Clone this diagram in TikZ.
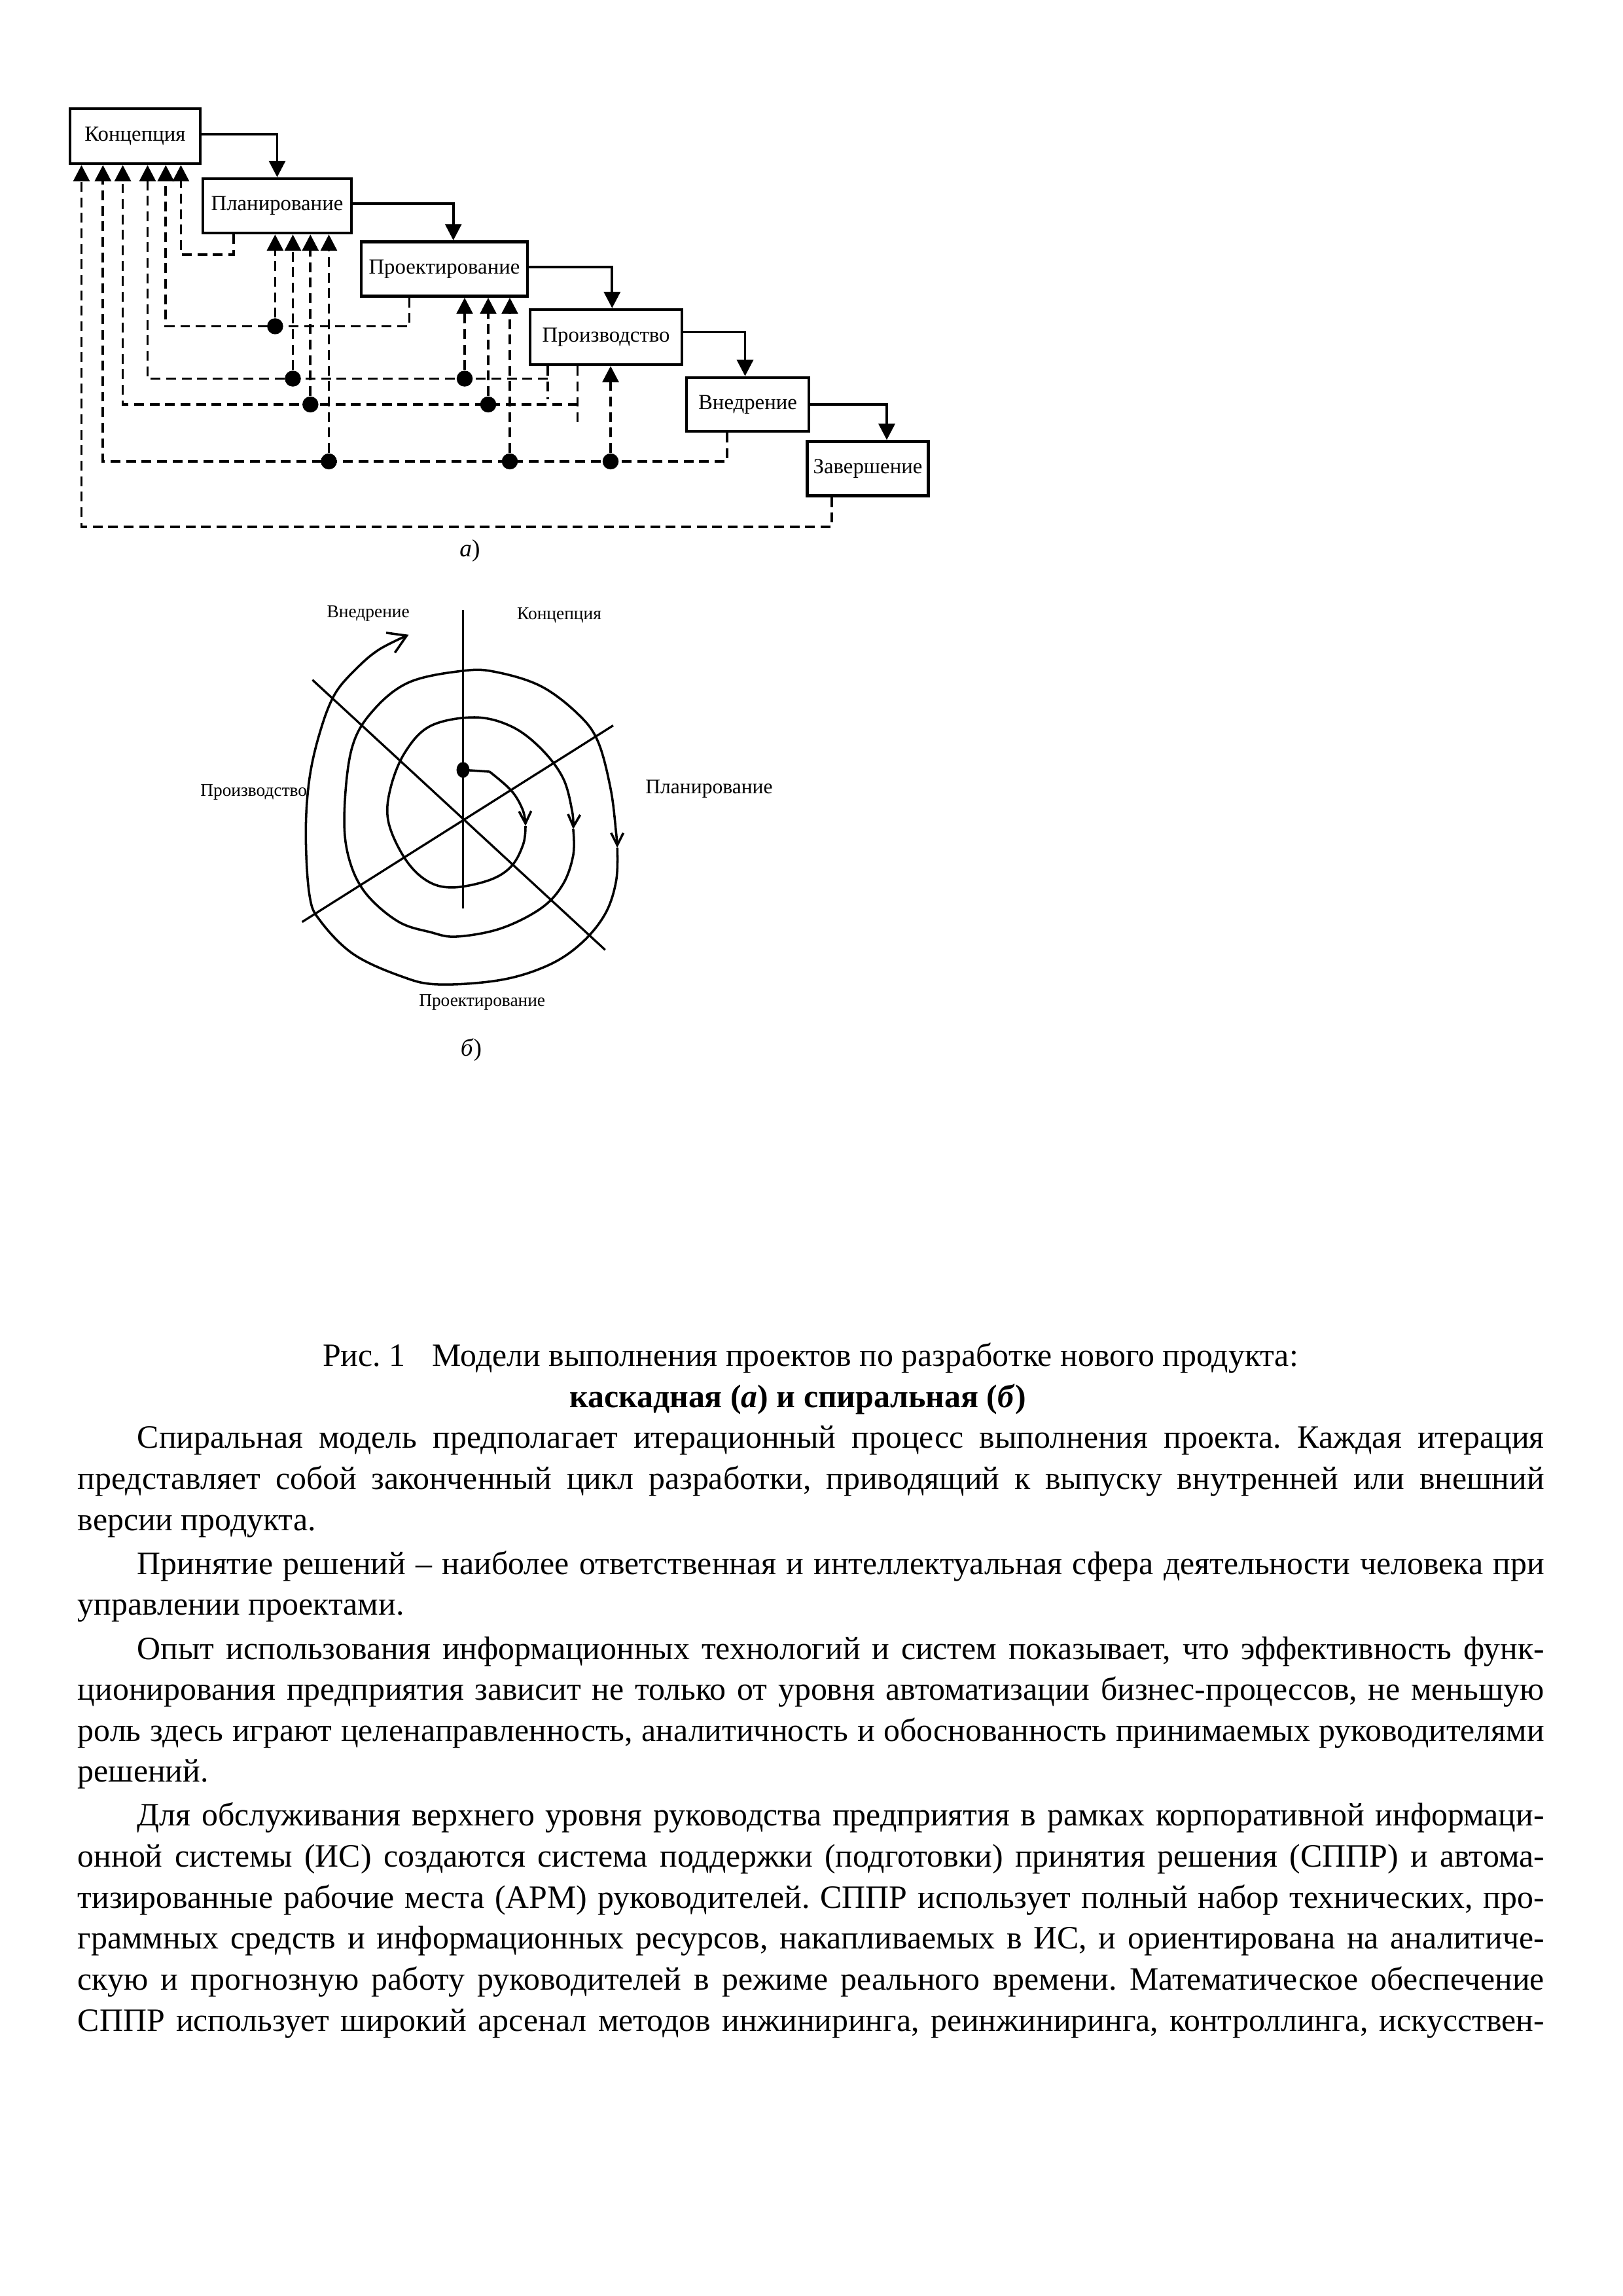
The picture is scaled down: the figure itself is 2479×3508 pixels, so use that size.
\documentclass[tikz,border=0pt]{standalone}
\usepackage{fontspec}
\setmainfont{Liberation Serif}
\usetikzlibrary{arrows.meta,calc,shapes.geometric}
\newcommand{\bodysz}{\fontsize{12}{14}\selectfont}
\newcommand{\boxsz}{\fontsize{7.9}{9.5}\selectfont}
\newcommand{\lblsz}{\fontsize{6.6}{8}\selectfont}
\newlength{\fullw}\setlength{\fullw}{539.81pt}
\newlength{\indw}\setlength{\indw}{517.89pt}
\newcommand{\jfull}[1]{\hbox to \fullw{#1}}
\newcommand{\jind}[1]{\hbox to \indw{#1}}
\frenchspacing
\begin{document}
\frenchspacing
\begin{tikzpicture}[x=0.24088pt, y=-0.24088pt,
  stage/.style={draw, line width=1.1pt, inner sep=0pt, font=\boxsz},
  flow/.style={line width=0.9pt, -{Triangle[width=6pt,length=6pt]}},
  fb/.style={line width=0.9pt, dash pattern=on 3.6pt off 2.1pt},
  fbarrow/.style={fb, -{Triangle[width=6pt,length=6pt]}},
  fbdot/.style={circle, fill, inner sep=0pt, minimum size=5.9pt},
  sdot/.style={ellipse, fill, inner sep=0pt, minimum width=4.8pt, minimum height=5.8pt},
  axisline/.style={line width=0.8pt},
  spiral/.style={line width=0.85pt},
  sarrow/.style={spiral, -{Straight Barb[length=4.5pt,width=4.5pt]}},
  bigsarrow/.style={spiral, -{Straight Barb[length=6.5pt,width=8pt]}},
  lbl/.style={font=\lblsz, inner sep=0pt},
  txt/.style={anchor=base west, inner sep=0pt, font=\bodysz},
]
\fill[white] (0,0) rectangle (2479,3508);
\useasboundingbox (0,0) rectangle (2479,3508);

% ---------------- cascade (a) ----------------
\node[stage, minimum width=47.9pt, minimum height=20.2pt] (K) at (206.5,208) {Концепция};
\node[stage, minimum width=54.7pt, minimum height=20.0pt] (P) at (423.5,314.5) {Планирование};
\node[stage, minimum width=61.2pt, minimum height=20.0pt] (D) at (679,411) {Проектирование};
\node[stage, minimum width=55.9pt, minimum height=20.2pt] (M) at (926,515) {Производство};
\node[stage, minimum width=45.0pt, minimum height=19.8pt] (V) at (1142.5,618) {Внедрение};
\node[stage, minimum width=44.6pt, minimum height=20.0pt] (Z) at (1326,716) {Завершение};

\draw[flow] ($(K.east)+(0,-3)$) -| (P.north);
\draw[flow] ($(P.east)+(0,-3.5)$) -| ($(D.north)+(13.7,0)$);
\draw[flow] ($(D.east)+(0,-3)$) -| ($(M.north)+(9.3,0)$);
\draw[flow] ($(M.east)+(0,-7.4)$) -| ($(V.north)+(-4,0)$);
\draw[flow] (V.east) -| ($(Z.north)+(29,0)$);

% P -> K
\coordinate (f1a) at (357,389);
\coordinate (f1b) at (276.4,389);
\draw[fbarrow] (P.south -| f1a) -- (f1a) -- (f1b) -- (K.south -| f1b);

% D -> P, K
\coordinate (f2a) at (625.4,498.5);
\coordinate (f2b) at (253.3,498.5);
\draw[fbarrow] (D.south -| f2a) -- (f2a) -- (f2b) -- (K.south -| f2b);

% M -> D, P, K (1)
\coordinate (f3a) at (837,578.5);
\coordinate (f3e) at (837,610);
\coordinate (f3b) at (225.5,578.5);
\draw[fb] (M.south -| f3a) -- (f3e);
\draw[fbarrow] (f3a) -- (f3b) -- (K.south -| f3b);

% M -> D, P, K (2)
\coordinate (f4a) at (882.6,618);
\coordinate (f4e) at (882.6,650);
\coordinate (f4b) at (187.6,618);
\draw[fb] (M.south -| f4a) -- (f4e);
\draw[fbarrow] (f4a) -- (f4b) -- (K.south -| f4b);

% V -> M, D, P, K
\coordinate (f5a) at (1110.7,705);
\coordinate (f5b) at (157.3,705);
\draw[fbarrow] (V.south -| f5a) -- (f5a) -- (f5b) -- (K.south -| f5b);

% Z -> K
\coordinate (f6a) at (1271,805);
\coordinate (f6b) at (124.5,805);
\draw[fbarrow] (Z.south -| f6a) -- (f6a) -- (f6b) -- (K.south -| f6b);

% branch dots and risers
\node[fbdot] (f2p) at (420.4,498.5) {};
\node[fbdot] (f3p) at (447.5,578.5) {};
\node[fbdot] (f3d) at (710,578.5) {};
\node[fbdot] (f4p) at (474.3,618) {};
\node[fbdot] (f4d) at (746,618) {};
\node[fbdot] (f5p) at (502.5,705) {};
\node[fbdot] (f5d) at (779,705) {};
\node[fbdot] (f5m) at (933,705) {};
\draw[fbarrow] (f2p) -- (P.south -| f2p);
\draw[fbarrow] (f3p) -- (P.south -| f3p);
\draw[fbarrow] (f4p) -- (P.south -| f4p);
\draw[fbarrow] (f5p) -- (P.south -| f5p);
\draw[fbarrow] (f3d) -- (D.south -| f3d);
\draw[fbarrow] (f4d) -- (D.south -| f4d);
\draw[fbarrow] (f5d) -- (D.south -| f5d);
\draw[fbarrow] (f5m) -- (M.south -| f5m);

\node[font=\fontsize{9}{11}\selectfont, inner sep=0pt] (capa) at (718,842) {\textit{а})};

% ---------------- spiral (b) ----------------
\draw[axisline] (707.5,931.6) -- (707.5,1387.9);
\draw[axisline] (477.4,1038.8) -- (924.7,1451.3);
\draw[axisline] (461.7,1408.6) -- (937,1108.4);
\node[sdot] (sd) at (707.5,1176.3) {};
\coordinate (s0) at (748,1179);
\draw[spiral] (sd.center) -- (s0);
\draw[sarrow] plot[smooth, tension=0.6] coordinates {(748,1179) (781.6,1208.3) (799,1238) (803,1262)};
\draw[sarrow] plot[smooth, tension=0.6] coordinates {(803,1262) (799.6,1289.6) (781.6,1323.3) (748,1344.6) (691.8,1355.9) (652.5,1345.8) (618.9,1312) (593.6,1256) (596.4,1205.5) (618.9,1149.4) (658.1,1109) (725.5,1096) (781.6,1110) (826.5,1143.7) (860.2,1188.6) (874.2,1239) (875.9,1267)};
\draw[sarrow] plot[smooth, tension=0.6] coordinates {(875.9,1267) (875.9,1306.5) (860,1351.4) (826.5,1387.9) (764.8,1418.7) (697.4,1431) (658,1424.3) (607.6,1407.5) (557.1,1362.6) (531.9,1306.5) (526.3,1239) (537.5,1143.7) (568.4,1087.6) (624.5,1042.7) (708.6,1024.8) (759.1,1027) (826.5,1048.4) (882.6,1090.4) (913.5,1132.5) (933.1,1205.5) (941.5,1272.8) (943.2,1295.3)};
\draw[bigsarrow] plot[smooth, tension=0.6] coordinates {(943.2,1295.3) (941.5,1345.8) (924.7,1396.3) (888.2,1441.2) (837.7,1474.8) (764.8,1497.3) (669.4,1504) (613.2,1491.7) (540.3,1458) (489.8,1407.5) (473,1368.2) (467.3,1272.8) (473,1188.6) (489.8,1115.7) (512.2,1059.6) (545.9,1020.3) (579.6,992.2) (624.5,969.8)};

\node[lbl] (lv) at (562.7,937.8) {Внедрение};
\node[lbl] (lk) at (854.5,940) {Концепция};
\node[lbl, font=\fontsize{7.6}{9}\selectfont] (lp) at (1083.5,1205.5) {Планирование};
\node[lbl, anchor=east] (lm) at (470,1210) {Производство};
\node[lbl] (ld) at (736.7,1531) {Проектирование};
\node[font=\fontsize{9}{11}\selectfont, inner sep=0pt] (capb) at (720,1604) {\textit{б})};

% ---------------- caption and text ----------------
\node[anchor=base, inner sep=0pt, font=\bodysz] (cap1) at (1238.5,2087) {Рис. 1\hspace{10pt}Модели выполнения проектов по разработке нового продукта:};
\node[anchor=base, inner sep=0pt, font=\bodysz\bfseries] (cap2) at (1219,2150) {каскадная (\textit{а}) и спиральная (\textit{б})};

\node[txt] (t1) at (209,2212) {\jind{Спиральная модель предполагает итерационный процесс выполнения проекта. Каждая итерация}};
\node[txt] (t2) at (118,2275) {\jfull{представляет собой законченный цикл разработки, приводящий к выпуску внутренней или внешний}};
\node[txt] (t3) at (118,2338) {версии продукта.};
\node[txt] (t4) at (209,2405) {\jind{Принятие решений – наиболее ответственная и интеллектуальная сфера деятельности человека при}};
\node[txt] (t5) at (118,2467) {управлении проектами.};
\node[txt] (t6) at (209,2535) {\jind{Опыт использования информационных технологий и систем показывает, что эффективность функ-}};
\node[txt] (t7) at (118,2597) {\jfull{ционирования предприятия зависит не только от уровня автоматизации бизнес-процессов, не меньшую}};
\node[txt] (t8) at (118,2660) {\jfull{роль здесь играют целенаправленность, аналитичность и обоснованность принимаемых руководителями}};
\node[txt] (t9) at (118,2722.5) {решений.};
\node[txt] (t10) at (209,2789.6) {\jind{Для обслуживания верхнего уровня руководства предприятия в рамках корпоративной информаци-}};
\node[txt] (t11) at (118,2852) {\jfull{онной системы (ИС) создаются система поддержки (подготовки) принятия решения (СППР) и автома-}};
\node[txt] (t12) at (118,2915) {\jfull{тизированные рабочие места (АРМ) руководителей. СППР использует полный набор технических, про-}};
\node[txt] (t13) at (118,2977.5) {\jfull{граммных средств и информационных ресурсов, накапливаемых в ИС, и ориентирована на аналитиче-}};
\node[txt] (t14) at (118,3040) {\jfull{скую и прогнозную работу руководителей в режиме реального времени. Математическое обеспечение}};
\node[txt] (t15) at (118,3103) {\jfull{СППР использует широкий арсенал методов инжиниринга, реинжиниринга, контроллинга, искусствен-}};
\end{tikzpicture}
\end{document}
